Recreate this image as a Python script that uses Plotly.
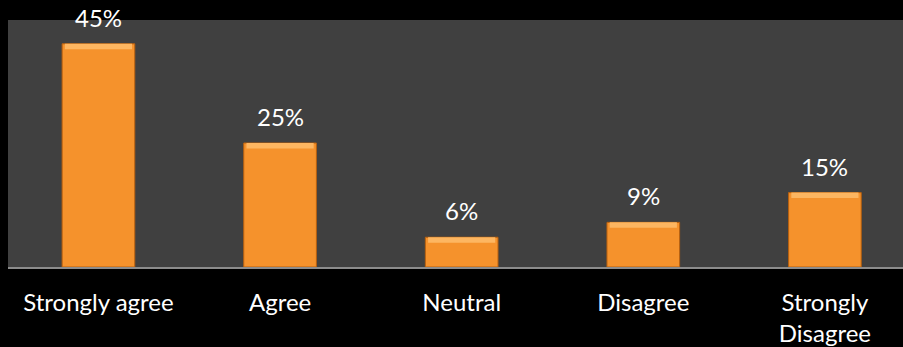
import plotly.graph_objects as go

# Survey responses
categories = ["Strongly agree", "Agree", "Neutral", "Disagree", "Strongly<br>Disagree"]
shares = [45, 25, 6, 9, 15]
value_labels = [f"{v}%" for v in shares]

FONT = "Lato"
ORANGE = "#F5922C"
EDGE = "#B8600F"

fig = go.Figure()

fig.add_trace(go.Bar(
    x=list(range(len(categories))),
    y=shares,
    width=0.40,
    marker=dict(color=ORANGE, line=dict(color=EDGE, width=1)),
    hoverinfo="skip",
))

# Light top edge on each bar for a bevelled look
fig.add_trace(go.Bar(
    x=list(range(len(categories))),
    y=[1.1] * len(shares),
    base=[v - 1.1 for v in shares],
    width=0.37,
    marker=dict(color="#FDB661", line=dict(width=0)),
    hoverinfo="skip",
))

for i, (v, t) in enumerate(zip(shares, value_labels)):
    fig.add_annotation(
        x=i, y=v, text=t, showarrow=False,
        yanchor="bottom", yshift=10,
        font=dict(family=FONT, size=24, color="white"),
    )

fig.update_layout(
    width=903, height=347,
    margin=dict(l=8, r=0, t=20, b=80),
    paper_bgcolor="black",
    plot_bgcolor="#404040",
    barmode="overlay",
    showlegend=False,
    xaxis=dict(
        tickmode="array",
        tickvals=list(range(len(categories))),
        ticktext=categories,
        range=[-0.498, 4.43],
        showgrid=False, zeroline=False,
        showline=True, linecolor="#8C8C8C", linewidth=2,
        ticks="", ticklabelstandoff=13,
        tickfont=dict(family=FONT, size=24, color="white"),
        fixedrange=True,
    ),
    yaxis=dict(
        range=[0, 49.8],
        showgrid=False, zeroline=False, showline=False,
        showticklabels=False, ticks="",
        fixedrange=True,
    ),
)

fig.write_html("out.html")
